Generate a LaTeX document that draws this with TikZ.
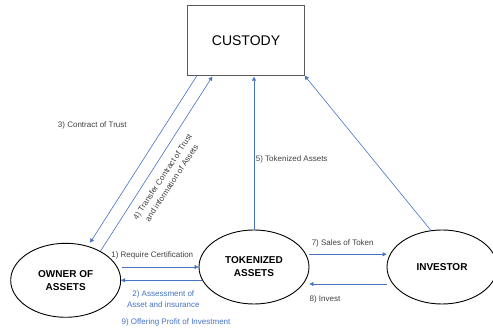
\documentclass[tikz,border=0pt]{standalone}
\usepackage{fontspec}
\setmainfont{Liberation Sans}
\usetikzlibrary{arrows.meta,shapes.geometric}
\definecolor{arrowblue}{HTML}{4472C4}
\definecolor{labelgray}{HTML}{404040}
\begin{document}
\begin{tikzpicture}[x=1pt,y=-1pt,
	party/.style={ellipse,draw,line width=0.9pt,minimum width=110pt,minimum height=74pt,inner sep=0pt,align=center,font=\fontsize{10}{13}\selectfont\bfseries},
	flow/.style={draw=arrowblue,line width=0.6pt,-{Triangle[width=4pt,length=4pt]}},
	note/.style={text=labelgray,align=center,font=\fontsize{8}{11}\selectfont,inner sep=0pt},
	bluenote/.style={note,text=arrowblue}]
	\useasboundingbox (0,0) rectangle (493,328);
	% boxes
	\node [draw=black!65,line width=0.8pt,minimum width=116.6pt,minimum height=69.6pt,font=\fontsize{14}{16}\selectfont] (custody) at (246,40.5) {CUSTODY};
	\node [party] (owner) at (65.7,280.3) {OWNER OF\\ASSETS};
	\node [party] (tok) at (254,267) {TOKENIZED\\ASSETS};
	\node [party] (inv) at (442,267) {INVESTOR};
	% flows
	\draw [flow,shorten >=4pt] ([xshift=9.6pt]custody.south west) -- (owner.57);
	\draw [flow,shorten >=1pt] (owner.40) -- ([xshift=25.6pt]custody.south west);
	\draw [flow,shorten >=1pt] (tok.north) -- (tok.north |- custody.south);
	\draw [flow] (inv.107) -- (custody.south east);
	\draw [flow] ([xshift=1pt]owner.east |- tok.west) -- (tok.west);
	\draw [flow] ([xshift=3pt]tok.west |- owner.east) -- (owner.east);
	\draw [flow] ([yshift=12.7pt]tok.east) -- ([yshift=12.7pt]inv.west);
	\draw [flow] ([yshift=-17pt]inv.west) -- ([yshift=-17pt]tok.east);
	% labels
	\node [note] (l3) at (92.3,125.7) {3) Contract of Trust};
	\node [note,rotate=56.8] (l4) at (167,180) {4) Transfer Contract of Trust\\and information of Assets};
	\node [note,anchor=west] (l5) at (255.7,159) {5) Tokenized Assets};
	\node [note] (l1) at (152.3,255) {1) Require Certification};
	\node [bluenote] (l2) at (163.3,299.3) {2) Assessment of\\Asset and insurance};
	\node [bluenote] (l9) at (176,322) {9) Offering Profit of Investment};
	\node [note] (l7) at (342.7,243.7) {7) Sales of Token};
	\node [note] (l8) at (325,299.7) {8) Invest};
\end{tikzpicture}
\end{document}
